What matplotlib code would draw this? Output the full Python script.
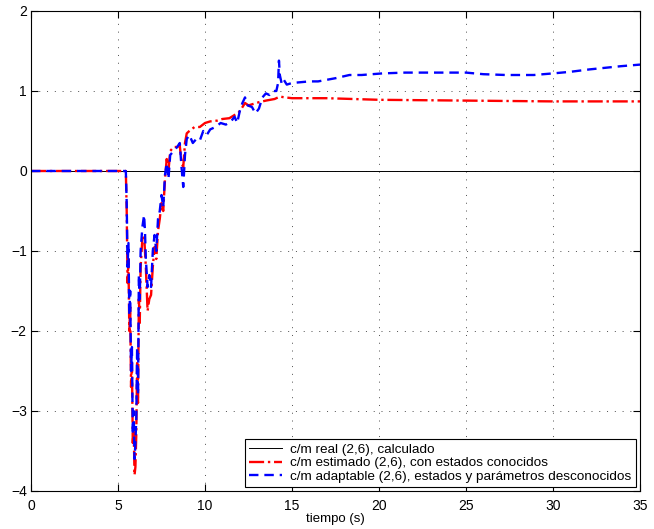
import matplotlib
matplotlib.use('Agg')
import matplotlib.pyplot as plt

# Datos
t_real = [0, 35]
y_real = [0, 0]

t_est = [0, 5.45, 5.5, 5.55, 5.6, 5.65, 5.7, 5.75, 5.8, 5.85, 5.9, 5.95, 6.0, 6.05,
         6.1, 6.15, 6.2, 6.25, 6.3, 6.4, 6.5, 6.6, 6.7, 6.8, 6.9, 7.0, 7.1, 7.2, 7.3,
         7.4, 7.5, 7.6, 7.7, 7.8, 7.9, 8.0, 8.2, 8.4, 8.55, 8.65, 8.75, 8.85, 8.95,
         9.1, 9.4, 9.7, 10.0, 10.3, 10.7, 11.0, 11.4, 11.7, 11.9, 12.1, 12.3, 12.5,
         12.8, 13.1, 13.5, 14.0, 14.3, 14.6, 15, 17, 20, 25, 30, 35]
y_est = [0, 0, -0.5, -1.4, -1.1, -2.0, -1.7, -2.7, -2.4, -3.4, -3.2, -3.8, -3.7, -3.3,
         -2.4, -2.9, -1.6, -1.9, -1.2, -0.85, -0.8, -1.2, -1.75, -1.6, -1.55, -1.2,
         -0.95, -1.1, -0.75, -0.6, -0.4, -0.5, -0.1, 0.15, 0.0, 0.25, 0.3, 0.3, 0.32,
         0.1, 0.05, 0.35, 0.47, 0.5, 0.55, 0.55, 0.6, 0.62, 0.63, 0.65, 0.66, 0.7,
         0.72, 0.78, 0.85, 0.82, 0.84, 0.86, 0.88, 0.9, 0.93, 0.92, 0.91, 0.91, 0.89,
         0.88, 0.87, 0.87]

t_adap = [0, 5.45, 5.5, 5.55, 5.6, 5.65, 5.7, 5.75, 5.8, 5.85, 5.9, 5.95, 6.0, 6.05,
          6.1, 6.15, 6.2, 6.25, 6.3, 6.4, 6.5, 6.55, 6.6, 6.7, 6.8, 6.9, 7.0, 7.1, 7.2,
          7.3, 7.4, 7.5, 7.6, 7.7, 7.8, 7.9, 8.0, 8.2, 8.4, 8.55, 8.65, 8.75, 8.85,
          8.95, 9.1, 9.3, 9.5, 9.7, 9.9, 10.1, 10.3, 10.6, 10.9, 11.2, 11.5, 11.7,
          11.85, 12.0, 12.15, 12.3, 12.45, 12.7, 12.9, 13.1, 13.3, 13.5, 13.7, 13.9,
          14.1, 14.2, 14.25, 14.3, 14.4, 14.5, 14.7, 15.0, 15.5, 16, 16.5, 17, 17.5,
          18.3, 19, 20.2, 21.5, 23, 25, 26, 27.3, 28.9, 30, 31, 32.1, 33, 33.9, 35]
y_adap = [0, 0, -0.4, -1.2, -0.9, -1.8, -1.5, -2.5, -2.2, -3.3, -3.0, -3.6, -3.4, -3.1,
          -2.2, -2.8, -1.3, -1.6, -1.0, -0.7, -0.55, -0.75, -1.1, -1.45, -1.3, -1.45,
          -1.0, -0.8, -1.0, -0.6, -0.5, -0.3, -0.45, -0.05, 0.1, -0.1, 0.2, 0.25, 0.3,
          0.35, 0.05, -0.2, 0.2, 0.4, 0.45, 0.35, 0.4, 0.38, 0.5, 0.45, 0.52, 0.55,
          0.6, 0.58, 0.62, 0.68, 0.6, 0.75, 0.85, 0.92, 0.82, 0.8, 0.72, 0.78, 0.92,
          0.97, 0.95, 1.0, 1.0, 1.1, 1.38, 1.2, 1.1, 1.15, 1.08, 1.1, 1.11, 1.12,
          1.12, 1.14, 1.16, 1.2, 1.2, 1.22, 1.23, 1.23, 1.23, 1.21, 1.2, 1.2, 1.22,
          1.24, 1.27, 1.29, 1.31, 1.33]

plt.rcParams['font.family'] = ['Liberation Sans', 'DejaVu Sans']

fig = plt.figure(figsize=(6.54, 5.29), dpi=100)
ax = fig.add_axes([31 / 654, 38 / 529, 609 / 654, 480 / 529])

ax.plot(t_real, y_real, color='black', linewidth=0.7, label='c/m real (2,6), calculado')
ax.plot(t_est, y_est, color='red', linestyle='-.', linewidth=1.7,
        label='c/m estimado (2,6), con estados conocidos')
ax.plot(t_adap, y_adap, color='blue', linestyle='--', linewidth=1.7, dashes=(4, 2.5),
        label='c/m adaptable (2,6), estados y parámetros desconocidos')

ax.set_xlim(0, 35)
ax.set_ylim(-4, 2)
ax.set_xticks(range(0, 36, 5))
ax.set_yticks(range(-4, 3))
ax.set_yticklabels(['\u22124', '\u22123', '\u22122', '\u22121', '0', '1', '2'])
ax.tick_params(direction='in', top=True, right=True, length=5, labelsize=10)
ax.tick_params(axis='x', pad=6)
ax.tick_params(axis='y', pad=3)
ax.grid(True, linestyle=(0, (1, 7)), color='0.3', linewidth=0.7)
for s in ax.spines.values():
    s.set_linewidth(0.8)

ax.set_xlabel('tiempo (s)', fontsize=9.5, labelpad=0)

leg = ax.legend(loc='lower right', bbox_to_anchor=(0.993, 0.008), fontsize=9.7,
                fancybox=False, framealpha=1, edgecolor='black', handlelength=2.5,
                borderpad=0.3, labelspacing=0.1, handletextpad=0.6, borderaxespad=0)
leg.get_frame().set_linewidth(0.8)

fig.savefig('out.png', dpi=100)
